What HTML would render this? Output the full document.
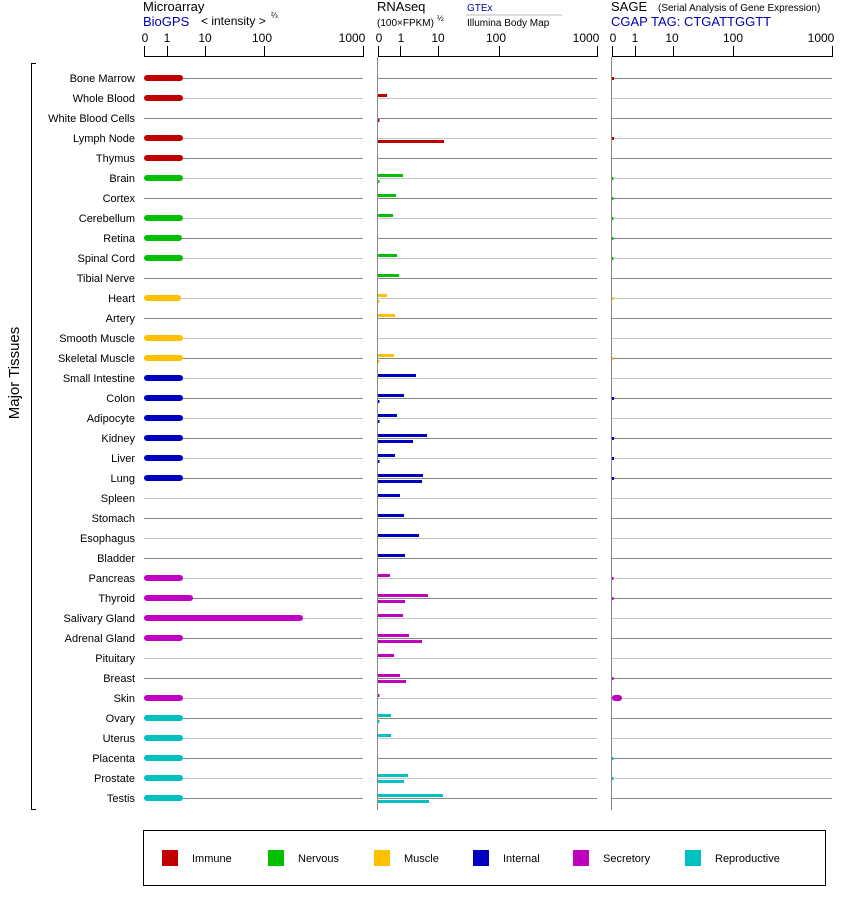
<!DOCTYPE html>
<html><head><meta charset="utf-8"><style>
body{margin:0;background:#fff;}
svg{display:block;font-family:"Liberation Sans",Arial,sans-serif;}
</style></head><body>
<svg width="842" height="900" viewBox="0 0 842 900" xmlns="http://www.w3.org/2000/svg">
<!-- headers -->
<text x="143" y="11" font-size="13">Microarray</text>
<text x="143" y="26" font-size="13" fill="#0000aa">BioGPS</text>
<text x="201" y="25" font-size="12">&lt; intensity &gt;</text>
<text x="271" y="18" font-size="8">⅔</text>
<text x="377" y="11" font-size="13">RNAseq</text>
<text x="377" y="26" font-size="10">(100×FPKM)</text>
<text x="437" y="21" font-size="8">½</text>
<text x="467" y="11" font-size="10" fill="#0000aa">GTEx</text>
<line x1="466" y1="15" x2="562" y2="15" stroke="#bbb"/>
<text x="467" y="26" font-size="10">Illumina Body Map</text>
<text x="611" y="11" font-size="13">SAGE</text>
<text x="658" y="11" font-size="10">(Serial Analysis of Gene Expression)</text>
<text x="611" y="26" font-size="13" fill="#0000aa">CGAP TAG: CTGATTGGTT</text>
<!-- axes -->
<g stroke="#000" stroke-width="1">
<line x1="144" y1="56.5" x2="363" y2="56.5"/>
<line x1="144.5" y1="46" x2="144.5" y2="57"/><line x1="167.5" y1="46" x2="167.5" y2="57"/><line x1="205.5" y1="46" x2="205.5" y2="57"/><line x1="264.5" y1="46" x2="264.5" y2="57"/><line x1="363.5" y1="46" x2="363.5" y2="57"/>
<line x1="378" y1="56.5" x2="597" y2="56.5"/>
<line x1="378.5" y1="46" x2="378.5" y2="57"/><line x1="400.5" y1="46" x2="400.5" y2="57"/><line x1="438.5" y1="46" x2="438.5" y2="57"/><line x1="499.5" y1="46" x2="499.5" y2="57"/><line x1="597.5" y1="46" x2="597.5" y2="57"/>
<line x1="612" y1="56.5" x2="832" y2="56.5"/>
<line x1="612.5" y1="46" x2="612.5" y2="57"/><line x1="635.5" y1="46" x2="635.5" y2="57"/><line x1="673.5" y1="46" x2="673.5" y2="57"/><line x1="733.5" y1="46" x2="733.5" y2="57"/><line x1="832.5" y1="46" x2="832.5" y2="57"/>
</g>
<g font-size="12" text-anchor="middle">
<text x="145" y="42">0</text><text x="167" y="42">1</text><text x="205" y="42">10</text><text x="262" y="42">100</text><text x="352" y="42">1000</text>
<text x="379" y="42">0</text><text x="401" y="42">1</text><text x="438" y="42">10</text><text x="496" y="42">100</text><text x="586" y="42">1000</text>
<text x="613" y="42">0</text><text x="635" y="42">1</text><text x="672" y="42">10</text><text x="733" y="42">100</text><text x="821" y="42">1000</text>
</g>
<g stroke="#888"><line x1="377.5" y1="57" x2="377.5" y2="810"/><line x1="611.5" y1="57" x2="611.5" y2="810"/></g>
<!-- gridlines -->
<g stroke-width="1">
<g stroke="#888">
<path d="M144 78.5H363M378 78.5H597M612 78.5H832 M144 118.5H363M378 118.5H597M612 118.5H832 M144 158.5H363M378 158.5H597M612 158.5H832 M144 198.5H363M378 198.5H597M612 198.5H832 M144 238.5H363M378 238.5H597M612 238.5H832 M144 278.5H363M378 278.5H597M612 278.5H832 M144 318.5H363M378 318.5H597M612 318.5H832 M144 358.5H363M378 358.5H597M612 358.5H832 M144 398.5H363M378 398.5H597M612 398.5H832 M144 438.5H363M378 438.5H597M612 438.5H832 M144 478.5H363M378 478.5H597M612 478.5H832 M144 518.5H363M378 518.5H597M612 518.5H832 M144 558.5H363M378 558.5H597M612 558.5H832 M144 598.5H363M378 598.5H597M612 598.5H832 M144 638.5H363M378 638.5H597M612 638.5H832 M144 678.5H363M378 678.5H597M612 678.5H832 M144 718.5H363M378 718.5H597M612 718.5H832 M144 758.5H363M378 758.5H597M612 758.5H832 M144 798.5H363M378 798.5H597M612 798.5H832"/>
</g>
<g stroke="#c4c4c4">
<path d="M144 98.5H363M378 98.5H597M612 98.5H832 M144 138.5H363M378 138.5H597M612 138.5H832 M144 178.5H363M378 178.5H597M612 178.5H832 M144 218.5H363M378 218.5H597M612 218.5H832 M144 258.5H363M378 258.5H597M612 258.5H832 M144 298.5H363M378 298.5H597M612 298.5H832 M144 338.5H363M378 338.5H597M612 338.5H832 M144 378.5H363M378 378.5H597M612 378.5H832 M144 418.5H363M378 418.5H597M612 418.5H832 M144 458.5H363M378 458.5H597M612 458.5H832 M144 498.5H363M378 498.5H597M612 498.5H832 M144 538.5H363M378 538.5H597M612 538.5H832 M144 578.5H363M378 578.5H597M612 578.5H832 M144 618.5H363M378 618.5H597M612 618.5H832 M144 658.5H363M378 658.5H597M612 658.5H832 M144 698.5H363M378 698.5H597M612 698.5H832 M144 738.5H363M378 738.5H597M612 738.5H832 M144 778.5H363M378 778.5H597M612 778.5H832"/>
</g>
</g>
<!-- labels -->
<g font-size="11" text-anchor="end">
<text x="135" y="82">Bone Marrow</text><text x="135" y="102">Whole Blood</text><text x="135" y="122">White Blood Cells</text><text x="135" y="142">Lymph Node</text><text x="135" y="162">Thymus</text>
<text x="135" y="182">Brain</text><text x="135" y="202">Cortex</text><text x="135" y="222">Cerebellum</text><text x="135" y="242">Retina</text><text x="135" y="262">Spinal Cord</text><text x="135" y="282">Tibial Nerve</text>
<text x="135" y="302">Heart</text><text x="135" y="322">Artery</text><text x="135" y="342">Smooth Muscle</text><text x="135" y="362">Skeletal Muscle</text>
<text x="135" y="382">Small Intestine</text><text x="135" y="402">Colon</text><text x="135" y="422">Adipocyte</text><text x="135" y="442">Kidney</text><text x="135" y="462">Liver</text><text x="135" y="482">Lung</text><text x="135" y="502">Spleen</text><text x="135" y="522">Stomach</text><text x="135" y="542">Esophagus</text><text x="135" y="562">Bladder</text>
<text x="135" y="582">Pancreas</text><text x="135" y="602">Thyroid</text><text x="135" y="622">Salivary Gland</text><text x="135" y="642">Adrenal Gland</text><text x="135" y="662">Pituitary</text><text x="135" y="682">Breast</text><text x="135" y="702">Skin</text>
<text x="135" y="722">Ovary</text><text x="135" y="742">Uterus</text><text x="135" y="762">Placenta</text><text x="135" y="782">Prostate</text><text x="135" y="802">Testis</text>
</g>
<text transform="translate(19,373) rotate(-90)" font-size="15" text-anchor="middle">Major Tissues</text>
<path d="M36 63.5H31.5V809.5H36" fill="none" stroke="#000"/>
<!-- microarray bars -->
<g stroke-width="6" stroke-linecap="round">
<g stroke="#c00000"><path d="M147 78H180M147 98H180M147 138H180M147 158H180"/></g>
<g stroke="#00c000"><path d="M147 178H180M147 218H180M147 238H179M147 258H180"/></g>
<g stroke="#ffc000"><path d="M147 298H178M147 338H180M147 358H180"/></g>
<g stroke="#0000c0"><path d="M147 378H180M147 398H180M147 418H180M147 438H180M147 458H180M147 478H180"/></g>
<g stroke="#c000c0"><path d="M147 578H180M147 598H190M147 618H300M147 638H180M147 698H180"/></g>
<g stroke="#00c0c0"><path d="M147 718H180M147 738H180M147 758H180M147 778H180M147 798H180"/></g>
</g>
<!-- rnaseq bars -->
<g fill="#c00000"><rect x="378" y="94" width="9" height="3"/><rect x="378" y="119" width="1.5" height="3"/><rect x="378" y="140" width="66" height="3"/></g>
<g fill="#00c000"><rect x="378" y="174" width="25" height="3"/><rect x="378" y="180" width="1.5" height="3"/><rect x="378" y="194" width="18" height="3"/><rect x="378" y="214" width="15" height="3"/><rect x="378" y="254" width="19" height="3"/><rect x="378" y="274" width="21" height="3"/></g>
<g fill="#ffc000"><rect x="378" y="294" width="9" height="3"/><rect x="378" y="300" width="1.5" height="3"/><rect x="378" y="314" width="17" height="3"/><rect x="378" y="354" width="16" height="3"/><rect x="378" y="360" width="1.5" height="3"/></g>
<g fill="#0000c0"><rect x="378" y="374" width="38" height="3"/><rect x="378" y="394" width="26" height="3"/><rect x="378" y="400" width="1.5" height="3"/><rect x="378" y="414" width="19" height="3"/><rect x="378" y="420" width="1.5" height="3"/><rect x="378" y="434" width="49" height="3"/><rect x="378" y="440" width="35" height="3"/><rect x="378" y="454" width="17" height="3"/><rect x="378" y="460" width="1.5" height="3"/><rect x="378" y="474" width="45" height="3"/><rect x="378" y="480" width="44" height="3"/><rect x="378" y="494" width="22" height="3"/><rect x="378" y="514" width="26" height="3"/><rect x="378" y="534" width="41" height="3"/><rect x="378" y="554" width="27" height="3"/></g>
<g fill="#c000c0"><rect x="378" y="574" width="12" height="3"/><rect x="378" y="594" width="50" height="3"/><rect x="378" y="600" width="27" height="3"/><rect x="378" y="614" width="25" height="3"/><rect x="378" y="634" width="31" height="3"/><rect x="378" y="640" width="44" height="3"/><rect x="378" y="654" width="16" height="3"/><rect x="378" y="674" width="22" height="3"/><rect x="378" y="680" width="28" height="3"/><rect x="378" y="694" width="1.5" height="3"/></g>
<g fill="#00c0c0"><rect x="378" y="714" width="13" height="3"/><rect x="378" y="720" width="1.5" height="3"/><rect x="378" y="734" width="13" height="3"/><rect x="378" y="774" width="30" height="3"/><rect x="378" y="780" width="26" height="3"/><rect x="378" y="794" width="65" height="3"/><rect x="378" y="800" width="51" height="3"/></g>
<!-- sage -->
<g>
<g fill="#c00000"><rect x="612" y="77" width="2" height="3"/><rect x="612" y="137" width="2" height="3"/></g>
<g fill="#00c000"><rect x="612" y="177" width="1.5" height="3"/><rect x="612" y="197" width="1.5" height="3"/><rect x="612" y="217" width="1.5" height="3"/><rect x="612" y="237" width="1.5" height="3"/><rect x="612" y="257" width="1.5" height="3"/></g>
<g fill="#ffc000"><rect x="612" y="297" width="1.5" height="3"/><rect x="612" y="357" width="1.5" height="3"/></g>
<g fill="#0000c0"><rect x="612" y="397" width="2" height="3"/><rect x="612" y="437" width="2" height="3"/><rect x="612" y="457" width="2" height="3"/><rect x="612" y="477" width="2" height="3"/></g>
<g fill="#c000c0"><rect x="612" y="577" width="1.5" height="3"/><rect x="612" y="597" width="1.5" height="3"/><rect x="612" y="677" width="1.5" height="3"/><rect x="612" y="695" width="10" height="6" rx="3"/></g>
<g fill="#00c0c0"><rect x="612" y="757" width="1.5" height="3"/><rect x="612" y="777" width="1.5" height="3"/></g>
</g>
<!-- legend -->
<rect x="143.5" y="830.5" width="682" height="55" fill="none" stroke="#000"/>
<g font-size="11">
<rect x="162" y="850" width="16" height="16" fill="#c00000"/><text x="192" y="862">Immune</text>
<rect x="268" y="850" width="16" height="16" fill="#00c000"/><text x="298" y="862">Nervous</text>
<rect x="374" y="850" width="16" height="16" fill="#ffc000"/><text x="404" y="862">Muscle</text>
<rect x="473" y="850" width="16" height="16" fill="#0000c0"/><text x="503" y="862">Internal</text>
<rect x="573" y="850" width="16" height="16" fill="#c000c0"/><text x="603" y="862">Secretory</text>
<rect x="685" y="850" width="16" height="16" fill="#00c0c0"/><text x="715" y="862">Reproductive</text>
</g>
</svg>
</body></html>
